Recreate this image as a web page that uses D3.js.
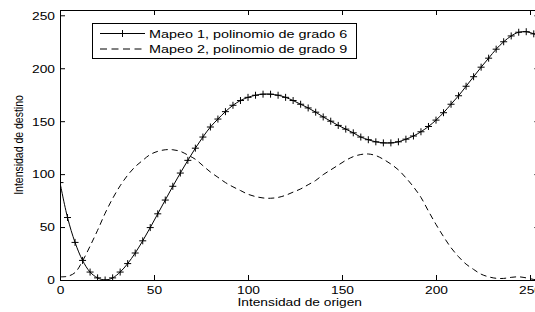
<!DOCTYPE html>
<html>
<head>
<meta charset="utf-8">
<script src="https://cdn.jsdelivr.net/npm/d3@7"></script>
<style>
  body { margin: 0; background: #fff; }
  svg { display: block; font-family: "Liberation Sans", Arial, Helvetica, sans-serif; }
</style>
</head>
<body>
<div id="chart"></div>
<script>
// values
var x_ticks = [0, 50, 100, 150, 200, 250];
var y_ticks = [0, 50, 100, 150, 200, 250];
var legend_labels = ["Mapeo 1, polinomio de grado 6", "Mapeo 2, polinomio de grado 9"];
var x_label = "Intensidad de origen";
var y_label = "Intensidad de destino";

var mapeo1_x = [0, 4, 8, 12, 16, 20, 24, 28, 32, 36, 40, 44, 48, 52, 56, 60, 64, 68, 72, 76,
                80, 84, 88, 92, 96, 100, 104, 108, 112, 116, 120, 124, 128, 132, 136, 140, 144, 148, 152, 156,
                160, 164, 168, 172, 176, 180, 184, 188, 192, 196, 200, 204, 208, 212, 216, 220, 224, 228, 232, 236,
                240, 244, 248, 252, 255];
var mapeo1_y = [92, 59, 35.5, 18.5, 7.5, 2, 0, 2, 7.5, 15.5, 25.5, 37, 49.5, 62.5, 75.5, 88.5, 101, 113, 124.5, 135,
                144.5, 152, 159, 165, 169.5, 172.5, 174.5, 175.5, 175.5, 174.5, 172.5, 169.5, 166, 162.5, 158.5, 154, 150, 146, 142.5, 139,
                135, 132.5, 130.5, 129.5, 129.5, 130.5, 133, 136, 140, 145, 151, 158, 166, 174, 183, 192, 201, 209.5, 218, 225,
                230.5, 234, 234.5, 232.5, 230];

var mapeo2_x = [0, 4, 8, 12, 16, 20, 24, 28, 32, 36, 40, 44, 48, 52, 56, 60, 64, 68, 72, 76,
                80, 84, 88, 92, 96, 100, 104, 108, 112, 116, 120, 124, 128, 132, 136, 140, 144, 148, 152, 156,
                160, 164, 168, 172, 176, 180, 184, 188, 192, 196, 200, 204, 208, 212, 216, 220, 224, 228, 232, 236,
                240, 244, 248, 252, 255];
var mapeo2_y = [3, 3.5, 7, 18, 32, 47, 63, 77, 89, 99, 107, 113, 118.5, 121.5, 123, 123, 121.5, 118, 114, 108,
                102, 97, 92, 88, 84.5, 81, 78.8, 77.5, 77.2, 78, 80, 83, 86, 90, 94, 99.5, 104, 108.5, 113, 116.5,
                118.5, 119, 117.5, 114, 109.5, 104, 96.5, 88, 78, 65, 52.5, 41, 30.5, 22, 15, 10, 5.5, 3, 1.6, 1.5,
                2.5, 3, 2, 0.5, 0];

var width = 535;
var height = 312;
var stretch = 1.25;   // the reference figure is stretched sideways, text too
var tick_len = 5;

var svg = d3.select("#chart")
            .append("svg")
            .attr("width", width)
            .attr("height", height);

var x = d3.scaleLinear()
          .domain([0, 255])
          .range([60, 539.4]);
var y = d3.scaleLinear()
          .domain([0, 255])
          .range([280, 10]);

// clip so curves stay inside the axes box
svg.append("clipPath")
   .attr("id", "plot_clip")
   .append("rect")
   .attr("x", x(0))
   .attr("y", y(255))
   .attr("width", x(255) - x(0))
   .attr("height", y(0) - y(255));

// axes with inward ticks on all four sides
var bottom_axis = svg.append("g")
                     .attr("transform", "translate(0," + y(0) + ")")
                     .call(d3.axisBottom(x).tickValues(x_ticks).tickSizeInner(-tick_len).tickSizeOuter(0));
var top_axis = svg.append("g")
                  .attr("transform", "translate(0," + y(255) + ")")
                  .call(d3.axisTop(x).tickValues(x_ticks).tickSizeInner(-tick_len).tickSizeOuter(0).tickFormat(""));
var left_axis = svg.append("g")
                   .attr("transform", "translate(" + x(0) + ",0)")
                   .call(d3.axisLeft(y).tickValues(y_ticks).tickSizeInner(-tick_len).tickSizeOuter(0));
var right_axis = svg.append("g")
                    .attr("transform", "translate(" + x(255) + ",0)")
                    .call(d3.axisRight(y).tickValues(y_ticks).tickSizeInner(-tick_len).tickSizeOuter(0).tickFormat(""));

svg.selectAll(".domain").attr("stroke", "#000").attr("stroke-width", 1);
svg.selectAll(".tick line").attr("stroke", "#000").attr("stroke-width", 1);

bottom_axis.selectAll(".tick text")
           .attr("y", 0)
           .attr("dy", 0)
           .attr("font-size", 11)
           .attr("fill", "#000")
           .attr("transform", "translate(0,13.5) scale(" + stretch + ",1)");

left_axis.selectAll(".tick text")
         .attr("x", 0)
         .attr("dy", "0.35em")
         .attr("font-size", 11)
         .attr("fill", "#000")
         .attr("transform", "translate(-5,0) scale(" + stretch + ",1)");

// axis labels
svg.append("text")
   .text(x_label)
   .attr("text-anchor", "middle")
   .attr("font-size", 11)
   .attr("transform", "translate(" + (x(0) + x(255)) / 2 + ",305.5) scale(" + stretch + ",1)");

svg.append("text")
   .text(y_label)
   .attr("text-anchor", "middle")
   .attr("font-size", 10.5)
   .attr("transform", "translate(23," + (y(0) + y(255)) / 2 + ") scale(" + stretch + ",1) rotate(-90)");

// curves
var plot = svg.append("g").attr("clip-path", "url(#plot_clip)");

var mapeo1 = mapeo1_x.map(function(d, i) { return {x: d, y: mapeo1_y[i]}; });
var mapeo2 = mapeo2_x.map(function(d, i) { return {x: d, y: mapeo2_y[i]}; });

var line = d3.line()
             .x(function(d) { return x(d.x); })
             .y(function(d) { return y(d.y); })
             .curve(d3.curveCatmullRom);

plot.append("path")
    .datum(mapeo2)
    .attr("d", line)
    .attr("fill", "none")
    .attr("stroke", "#000")
    .attr("stroke-width", 1)
    .attr("stroke-dasharray", "6,4");

plot.append("path")
    .datum(mapeo1)
    .attr("d", line)
    .attr("fill", "none")
    .attr("stroke", "#000")
    .attr("stroke-width", 1);

// "+" markers every 4 units
var plus = "M-3.5,0H3.5M0,-3.5V3.5";
plot.selectAll("path.marker")
    .data(mapeo1.filter(function(d) { return d.x % 4 === 0; }))
    .enter()
    .append("path")
    .classed("marker", true)
    .attr("d", plus)
    .attr("transform", function(d) { return "translate(" + x(d.x) + "," + y(d.y) + ")"; })
    .attr("stroke", "#000")
    .attr("stroke-width", 1)
    .attr("fill", "none");

// legend
var legend = svg.append("g");
legend.append("rect")
      .attr("x", 92.5)
      .attr("y", 23.5)
      .attr("width", 264)
      .attr("height", 35)
      .attr("fill", "#fff")
      .attr("stroke", "#000")
      .attr("stroke-width", 1);

var rows = [33.5, 49];
legend_labels.forEach(function(label, i) {
  legend.append("line")
        .attr("x1", 100)
        .attr("x2", 145)
        .attr("y1", rows[i])
        .attr("y2", rows[i])
        .attr("stroke", "#000")
        .attr("stroke-width", 1)
        .attr("stroke-dasharray", i === 1 ? "7,4.5" : null);
  if (i === 0) {
    legend.append("path")
          .attr("d", plus)
          .attr("transform", "translate(122.5," + rows[i] + ")")
          .attr("stroke", "#000")
          .attr("fill", "none");
  }
  legend.append("text")
        .text(label)
        .attr("font-size", 11)
        .attr("transform", "translate(149," + (rows[i] + 4) + ") scale(1.31,1)");
});
</script>
</body>
</html>
